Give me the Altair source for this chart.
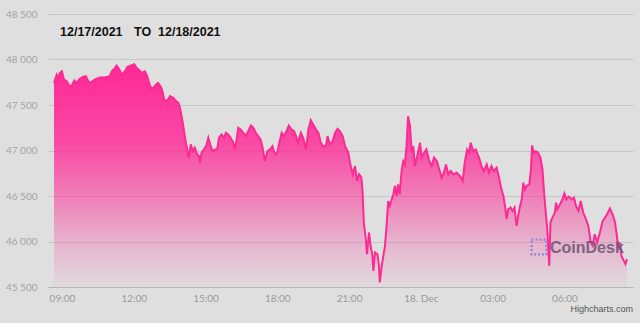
import altair as alt
import pandas as pd

# minutes relative to 12/17/2021 09:00 (UTC)
minutes = [
    -20, -13, -9, -5, 0, 5, 12, 18, 24, 31, 37, 43, 52, 60, 66, 72, 79, 87, 95, 108,
    120, 125, 133, 137, 144, 150, 158, 164, 172, 181, 187, 194, 200, 208, 214, 221, 227, 236, 241, 248,
    253, 256, 263, 271, 279, 286, 292, 296, 303, 308, 314, 318, 323, 328, 333, 339, 344,
    346, 350, 356, 363, 367, 373, 378, 384, 389, 394, 400, 406, 411, 417, 423, 430, 434, 438, 442, 448,
    455, 461, 467, 474, 480, 486, 492, 498, 503, 509, 515, 522, 528, 534, 540, 545, 551, 557, 563, 569,
    576, 582, 587, 592, 599, 605, 612, 618, 624, 630, 637, 643, 649, 655, 662, 666, 672, 679, 685, 691,
    697, 704, 710, 718,
    724, 729, 735, 740, 745, 751, 754, 757, 762, 765, 770, 774, 778, 781, 785, 791, 795, 797, 802, 806,
    810, 814, 818, 822, 827, 831, 835, 839, 843, 847, 852, 856, 860, 864, 868, 873, 877, 881, 885, 891,
    898, 902, 908, 914, 921, 927, 933, 940, 946, 952, 958, 963, 969, 975, 981, 990, 998, 1005, 1010, 1016,
    1021, 1025, 1031, 1038, 1044,
    1046, 1052, 1058, 1065, 1071, 1077, 1083, 1090, 1096, 1102, 1107, 1111, 1115, 1119, 1125, 1130, 1135, 1140, 1144, 1148,
    1153, 1157, 1161, 1165, 1172, 1176, 1179, 1183, 1188, 1194, 1200, 1205, 1209, 1214, 1217, 1220, 1222, 1225, 1230, 1236,
    1239, 1242, 1249, 1255, 1260, 1265, 1271, 1278, 1284, 1289, 1295, 1301, 1307, 1314, 1320, 1326, 1331, 1336, 1342, 1349,
    1356, 1362, 1367, 1374, 1381, 1387, 1391, 1395, 1399, 1403, 1409, 1413, 1417,
]

prices = [
    47743, 47834, 47798, 47853, 47871, 47780, 47761, 47714, 47706, 47769, 47743, 47780, 47809, 47816, 47761, 47743, 47772, 47790, 47801, 47805,
    47816, 47871, 47908, 47933, 47889, 47834, 47871, 47919, 47933, 47947, 47908, 47881, 47853, 47871, 47816, 47706, 47678, 47725, 47743, 47700,
    47634, 47560, 47542, 47597, 47579, 47542, 47524, 47469, 47305, 47158, 47012, 46921, 47067, 46993, 47031, 46957, 46939,
    46866, 46976, 47012, 47067, 47140, 47048, 46993, 47012, 47012, 47140, 47176, 47140, 47195, 47176, 47140, 47085, 47012, 47122, 47250, 47231,
    47195, 47158, 47213, 47275, 47250, 47195, 47158, 47122, 47031, 46884, 46993, 47012, 47048, 46957, 46976, 47085, 47195, 47158, 47213, 47275,
    47231, 47213, 47158, 47085, 47195, 47140, 47012, 47231, 47333, 47286, 47231, 47195, 47085, 47048, 47048, 47158, 47067, 47103, 47195, 47239,
    47213, 47158, 47048, 46976,
    46829, 46738, 46829, 46664, 46738, 46702, 46537, 46208, 46025, 45861, 46099, 45952, 45861, 45678, 45879, 45861, 45732, 45550, 45732, 45842,
    45952, 46171, 46445, 46390, 46464, 46519, 46610, 46500, 46628, 46519, 46793, 46884, 46848, 47048, 47377, 47268, 46976, 47048, 46829, 46939,
    47085, 46921, 46976, 47012, 46884, 46829, 46921, 46884, 46793, 46702, 46756, 46847, 46738, 46774, 46738, 46756, 46719, 46664, 46866, 47012,
    46976, 47085, 46993, 47012, 46939,
    46921, 46829, 46774, 46847, 46756, 46829, 46774, 46811, 46702, 46573, 46500, 46390, 46245, 46354, 46373, 46336, 46373, 46171, 46281, 46373,
    46464, 46647, 46573, 46610, 46628, 46793, 47056, 46976, 46993, 46976, 46921, 46793, 46537, 46281, 46135, 45879, 45732, 46208, 46263, 46318,
    46427, 46354, 46409, 46464, 46529, 46464, 46493, 46464, 46482, 46390, 46336, 46445, 46318, 46245, 46171, 45989, 45952, 46080, 45989, 46099,
    46226, 46263, 46299, 46362, 46299, 46208, 46080, 45934, 45989, 45842, 45787, 45751, 45806,
]

y_ticks = [45500, 46000, 46500, 47000, 47500, 48000, 48500]
x_tick_hours = [(17, 9), (17, 12), (17, 15), (17, 18), (17, 21), (18, 0), (18, 3), (18, 6)]
title_parts = ["12/17/2021", "TO", "12/18/2021"]

start = pd.Timestamp("2021-12-17 09:00")
times = [(start + pd.Timedelta(minutes=m)).strftime("%Y-%m-%dT%H:%M:%SZ") for m in minutes]
df = pd.DataFrame({"time": times, "price": prices})

PINK = "#fc2a93"
BG = "#dfdfdf"

x_values = [alt.DateTime(year=2021, month=12, date=d, hours=h, utc=True) for d, h in x_tick_hours]

area = alt.Chart(df).mark_area(
    line={"color": PINK, "strokeWidth": 2, "opacity": 1},
    interpolate="linear",
    opacity=1,
    fillOpacity=1,
    color=alt.Gradient(
        gradient="linear",
        stops=[
            alt.GradientStop(color="rgba(255,40,150,1)", offset=0),
            alt.GradientStop(color="rgba(255,40,150,0.82)", offset=0.35),
            alt.GradientStop(color="rgba(255,40,150,0.52)", offset=0.6),
            alt.GradientStop(color="rgba(255,40,150,0.24)", offset=0.8),
            alt.GradientStop(color="rgba(255,40,150,0.03)", offset=1),
        ],
        x1=0, x2=0, y1=0, y2=1,
    ),
).encode(
    x=alt.X(
        "time:T",
        scale=alt.Scale(
            type="utc",
            domain=[
                alt.DateTime(year=2021, month=12, date=17, hours=8, minutes=25, utc=True),
                alt.DateTime(year=2021, month=12, date=18, hours=8, minutes=52, utc=True),
            ],
        ),
        axis=alt.Axis(
            title=None,
            values=x_values,
            labelExpr="utchours(datum.value) == 0 ? utcFormat(datum.value, '%d. %b') : utcFormat(datum.value, '%H:%M')",
            ticks=False,
            grid=False,
            domain=True,
            domainColor="#b3b3b3",
            domainWidth=1,
            labelColor="#9a9a9a",
            labelFontSize=10,
            labelFont="Lato",
            labelPadding=6,
            labelFlush=False,
        ),
    ),
    y=alt.Y(
        "price:Q",
        scale=alt.Scale(domain=[45500, 48500], zero=False, nice=False),
        axis=alt.Axis(
            title=None,
            values=y_ticks,
            labelExpr="replace(format(datum.value, ','), ',', ' ')",
            ticks=False,
            domain=False,
            grid=True,
            gridColor="#c6c6c6",
            gridWidth=1,
            labelColor="#a3a3a3",
            labelFontSize=10,
            labelFont="Lato",
            labelPadding=11,
        ),
    ),
    y2=alt.datum(45500),
)

title_df = pd.DataFrame({"t": title_parts, "px": [12, 86, 110]})
titles = alt.Chart(title_df).mark_text(
    align="left", baseline="middle", font="Liberation Sans", fontWeight="bold",
    fontSize=12.5, color="#111111",
).encode(
    text="t:N",
    x=alt.X("px:Q", scale=None),
    y=alt.value(18),
)

logo = alt.Chart(pd.DataFrame({"a": [1]})).mark_point(
    shape="square", filled=False, size=220, stroke="#8a7fe6", strokeWidth=2.4,
    strokeDash=[2, 2], opacity=0.9,
).encode(x=alt.value(491), y=alt.value(233))

brand = alt.Chart(pd.DataFrame({"t": ["CoinDesk"]})).mark_text(
    align="left", baseline="middle", font="Liberation Sans", fontWeight="bold",
    fontSize=16, color="#6a5674", opacity=0.85,
).encode(text="t:N", x=alt.value(502), y=alt.value(234))

credits = alt.Chart(pd.DataFrame({"t": ["Highcharts.com"]})).mark_text(
    align="right", baseline="middle", font="Liberation Sans", fontSize=9, color="#555555",
).encode(text="t:N", x=alt.value(585), y=alt.value(295))

chart = alt.layer(area, titles, logo, brand, credits).properties(
    width=585,
    height=273,
    padding={"left": 48, "top": 14, "right": 7, "bottom": 36},
    autosize=alt.AutoSizeParams(type="none"),
    background=BG,
).configure_view(stroke=None)

chart.save("out.html", embed_options={"renderer": "svg", "actions": False})
